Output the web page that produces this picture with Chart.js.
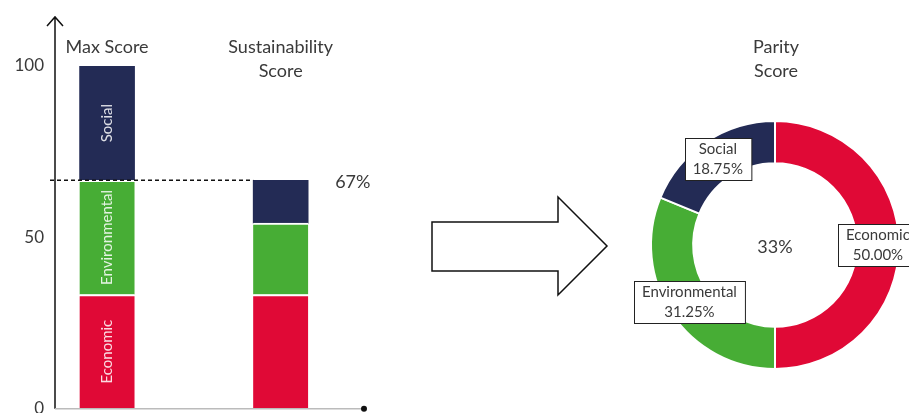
<!DOCTYPE html>
<html>
<head>
<meta charset="utf-8">
<script src="https://cdn.jsdelivr.net/npm/chart.js@4.4.1/dist/chart.umd.min.js"></script>
<style>
  html, body { margin: 0; padding: 0; background: #fff; }
  #page { position: relative; width: 909px; height: 413px; overflow: hidden; }
  #barChart { position: absolute; left: 0; top: 0; }
  #ringChart { position: absolute; left: 560px; top: 0; }
  #arrow { position: absolute; left: 0; top: 0; }
</style>
</head>
<body>
<div id="page">
  <canvas id="barChart" width="420" height="430"></canvas>
  <svg id="arrow" width="909" height="413">
    <polygon points="432,222 558,222 558,197 607,246 558,295 558,271 432,271"
             fill="#fff" stroke="#111" stroke-width="1.5"/>
  </svg>
  <canvas id="ringChart" width="430" height="413"></canvas>
</div>
<script>
// pillars and scores
const pilares = ['Economic', 'Environmental', 'Social'];
const barras = ['Max Score', 'Sustainability Score'];
const maxScore = [33.33, 33.33, 33.34];
const sustScore = [33.33, 20.83, 12.50];
const parityScore = 33;
const yTicks = [0, 50, 100];
const colores = ['#E00936', '#47AD35', '#232B55'];

const fuente = "'Gill Sans', Lato, sans-serif";
const gris = '#3a3a3a';

const totalSust = sustScore.reduce((a, b) => a + b, 0);

// ---------- stacked bars ----------
const decorBarras = {
  id: 'decorBarras',
  afterDatasetsDraw(chart) {
    const ctx = chart.ctx;
    const {chartArea} = chart;
    const x = chart.scales.x, y = chart.scales.y;
    ctx.save();

    // y axis with arrow head
    ctx.strokeStyle = '#111';
    ctx.lineWidth = 1.5;
    ctx.beginPath();
    ctx.moveTo(chartArea.left, chartArea.bottom);
    ctx.lineTo(chartArea.left, 17);
    ctx.moveTo(chartArea.left - 8, 26);
    ctx.lineTo(chartArea.left, 17);
    ctx.lineTo(chartArea.left + 8, 26);
    ctx.stroke();

    // x axis
    ctx.strokeStyle = '#bbb';
    ctx.lineWidth = 1.5;
    ctx.beginPath();
    ctx.moveTo(chartArea.left, chartArea.bottom);
    ctx.lineTo(chartArea.right, chartArea.bottom);
    ctx.stroke();
    ctx.fillStyle = '#111';
    ctx.beginPath();
    ctx.arc(chartArea.right, chartArea.bottom, 3, 0, Math.PI * 2);
    ctx.fill();

    // dashed line at the sustainability total
    const topBar = chart.getDatasetMeta(2).data[1];
    const yTot = y.getPixelForValue(totalSust);
    ctx.strokeStyle = '#111';
    ctx.lineWidth = 1.5;
    ctx.setLineDash([4, 3]);
    ctx.beginPath();
    ctx.moveTo(chartArea.left - 5, yTot);
    ctx.lineTo(topBar.x - topBar.width / 2, yTot);
    ctx.stroke();
    ctx.setLineDash([]);

    // total label
    ctx.fillStyle = gris;
    ctx.font = '18px ' + fuente;
    ctx.textAlign = 'left';
    ctx.textBaseline = 'middle';
    ctx.fillText(Math.round(totalSust) + '%', topBar.x + topBar.width / 2 + 27, yTot + 2);

    // titles above each bar
    ctx.textAlign = 'center';
    barras.forEach((t, i) => {
      const cx = x.getPixelForValue(i);
      const partes = t === 'Max Score' ? [t] : t.split(' ');
      partes.forEach((p, j) => ctx.fillText(p, cx, 47 + j * 24));
    });

    // pillar names inside the first bar
    ctx.font = '15px ' + fuente;
    ctx.fillStyle = 'rgba(255,255,255,0.85)';
    pilares.forEach((p, i) => {
      const bar = chart.getDatasetMeta(i).data[0];
      const cy = (bar.y + bar.base) / 2;
      ctx.save();
      ctx.translate(bar.x, cy);
      ctx.rotate(-Math.PI / 2);
      ctx.fillText(p, 0, 0);
      ctx.restore();
    });
    ctx.restore();
  }
};

new Chart(document.getElementById('barChart'), {
  type: 'bar',
  data: {
    datasets: pilares.map((p, i) => ({
      label: p,
      data: [{x: 0, y: maxScore[i]}, {x: 1, y: sustScore[i]}],
      backgroundColor: colores[i],
      borderColor: '#fff',
      // white gap between stacked pieces, none on the top piece
      borderWidth: {top: i < pilares.length - 1 ? 2 : 0, right: 0, bottom: 0, left: 0},
      borderSkipped: 'start',
      barThickness: 55
    }))
  },
  options: {
    responsive: false,
    animation: false,
    layout: {padding: {top: 66, right: 56, bottom: 18, left: 0}},
    plugins: {legend: {display: false}, tooltip: {enabled: false}},
    scales: {
      x: {
        type: 'linear', stacked: true, offset: false, min: -0.3, max: 1.48,
        display: false
      },
      y: {
        stacked: true, min: 0, max: 100,
        afterFit(scale) { scale.width = 55; },
        afterBuildTicks(scale) { scale.ticks = yTicks.map(v => ({value: v})); },
        grid: {display: false, drawTicks: false},
        border: {display: false},
        ticks: {color: gris, font: {family: fuente, size: 17}, padding: 11}
      }
    }
  },
  plugins: [decorBarras]
});

// ---------- parity ring ----------
const etiquetasAnillo = {
  id: 'etiquetasAnillo',
  afterDatasetsDraw(chart) {
    const ctx = chart.ctx;
    const meta = chart.getDatasetMeta(0);
    const total = sustScore.reduce((a, b) => a + b, 0);
    const cx = (chart.chartArea.left + chart.chartArea.right) / 2;
    const cy = (chart.chartArea.top + chart.chartArea.bottom) / 2;
    ctx.save();
    ctx.fillStyle = gris;
    ctx.textAlign = 'center';
    ctx.textBaseline = 'middle';

    ctx.font = '18px ' + fuente;
    ctx.fillText('Parity', cx + 1, 47);
    ctx.fillText('Score', cx + 1, 71);
    ctx.fillText(parityScore + '%', cx, cy + 2);

    ctx.font = '15px ' + fuente;
    meta.data.forEach((arc, i) => {
      const p = arc.tooltipPosition();
      const l1 = pilares[i];
      const l2 = (sustScore[i] / total * 100).toFixed(2) + '%';
      const w = Math.max(ctx.measureText(l1).width, ctx.measureText(l2).width) + 16;
      const h = 42;
      const bx = Math.round(p.x - w / 2) + 0.5, by = Math.round(p.y - h / 2) + 0.5;
      ctx.fillStyle = '#fff';
      ctx.fillRect(bx, by, w, h);
      ctx.strokeStyle = '#222';
      ctx.lineWidth = 1;
      ctx.strokeRect(bx, by, w, h);
      ctx.fillStyle = gris;
      ctx.fillText(l1, p.x, p.y - 10);
      ctx.fillText(l2, p.x, p.y + 10);
    });
    ctx.restore();
  }
};

new Chart(document.getElementById('ringChart'), {
  type: 'doughnut',
  data: {
    labels: pilares,
    datasets: [{
      data: sustScore,
      backgroundColor: colores,
      borderColor: '#fff',
      borderWidth: 2
    }]
  },
  options: {
    responsive: false,
    animation: false,
    radius: 124,
    cutout: '66%',
    layout: {padding: {top: 77, bottom: 0, left: 0, right: 0}},
    plugins: {legend: {display: false}, tooltip: {enabled: false}}
  },
  plugins: [etiquetasAnillo]
});
</script>
</body>
</html>
